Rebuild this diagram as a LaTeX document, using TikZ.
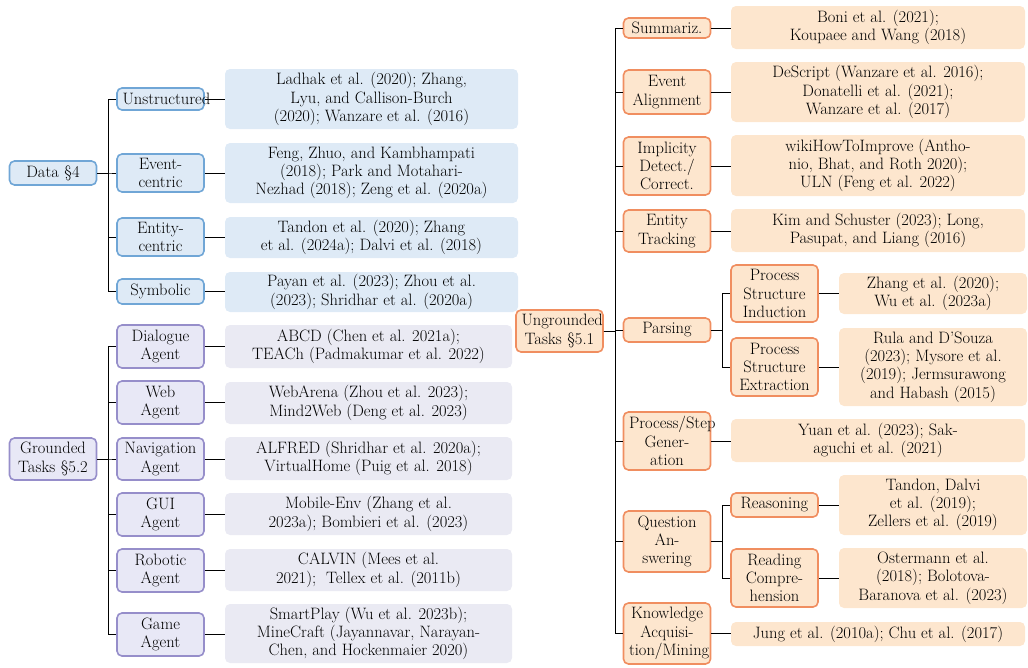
\documentclass[tikz,border=0pt]{standalone}
\definecolor{dataline}{RGB}{112,166,214}
\definecolor{datafill}{RGB}{222,234,246}
\definecolor{gndline}{RGB}{150,142,202}
\definecolor{gndfill}{RGB}{232,232,246}
\definecolor{gndleaf}{RGB}{234,234,243}
\definecolor{ugline}{RGB}{240,142,96}
\definecolor{ugfill}{RGB}{253,230,206}
\tikzset{
  box/.style={draw, rounded corners=5pt, line width=1.6pt, align=center,
    text width=76pt, inner xsep=5.5pt, inner ysep=0pt,
    font=\fontsize{16.5}{18.3}\selectfont},
  leaf/.style={rounded corners=5pt, align=center, inner sep=0pt,
    font=\fontsize{16.5}{18.3}\selectfont},
  dbox/.style={box, draw=dataline, fill=datafill},
  gbox/.style={box, draw=gndline, fill=gndfill},
  ubox/.style={box, draw=ugline, fill=ugfill},
  dleaf/.style={leaf, fill=datafill, minimum width=293pt},
  gleaf/.style={leaf, fill=gndleaf, minimum width=287pt},
  uleaf/.style={leaf, fill=ugfill, minimum width=294pt},
  usub/.style={leaf, fill=ugfill, minimum width=188pt},
  conn/.style={line width=0.9pt},
}
\begin{document}
\begin{tikzpicture}[x=1pt,y=-1pt]
  \useasboundingbox (0,0) rectangle (1028,667);

  % data
  \node[dbox, minimum height=24pt] (data) at (53,173) {Data \S4};
  \node[dbox, minimum height=22pt] (unstr) at (160.5,99) {Unstructured};
  \node[dbox, minimum height=38pt] (event) at (160.5,173) {Event-\\centric};
  \node[dbox, minimum height=38pt] (entity) at (160.5,237) {Entity-\\centric};
  \node[dbox, minimum height=25pt] (symb) at (160.5,291.5) {Symbolic};
  \node[dleaf, minimum height=60pt] (unstrL) at (371.5,99) {Ladhak et al. (2020); Zhang,\\Lyu, and Callison-Burch\\(2020); Wanzare et al. (2016)};
  \node[dleaf, minimum height=60pt] (eventL) at (371.5,173) {Feng, Zhuo, and Kambhampati\\(2018); Park and Motahari-\\Nezhad (2018); Zeng et al. (2020a)};
  \node[dleaf, minimum height=41pt] (entityL) at (371.5,237.5) {Tandon et al. (2020); Zhang\\et al. (2024a); Dalvi et al. (2018)};
  \node[dleaf, minimum height=40pt] (symbL) at (371.5,292) {Payan et al. (2023); Zhou et al.\\(2023); Shridhar et al. (2020a)};

  % grounded
  \node[gbox, minimum height=42pt] (ground) at (53,459) {Grounded\\Tasks \S5.2};
  \node[gbox, minimum height=43pt] (dial) at (160.5,346.5) {Dialogue\\Agent};
  \node[gbox, minimum height=43pt] (web) at (160.5,402.5) {Web\\Agent};
  \node[gbox, minimum height=42pt] (nav) at (160.5,459) {Navigation\\Agent};
  \node[gbox, minimum height=43pt] (gui) at (160.5,514.5) {GUI\\Agent};
  \node[gbox, minimum height=43pt] (robot) at (160.5,570.5) {Robotic\\Agent};
  \node[gbox, minimum height=43pt] (game) at (160.5,634.5) {Game\\Agent};
  \node[gleaf, minimum height=43pt] (dialL) at (368.5,346.5) {ABCD (Chen et al. 2021a);\\TEACh (Padmakumar et al. 2022)};
  \node[gleaf, minimum height=42pt] (webL) at (368.5,403) {WebArena (Zhou et al. 2023);\\Mind2Web (Deng et al. 2023)};
  \node[gleaf, minimum height=43pt] (navL) at (368.5,458.5) {ALFRED (Shridhar et al. 2020a);\\VirtualHome (Puig et al. 2018)};
  \node[gleaf, minimum height=42pt] (guiL) at (368.5,514) {Mobile-Env (Zhang et al.\\2023a); Bombieri et al. (2023)};
  \node[gleaf, minimum height=42pt] (robotL) at (368.5,570) {CALVIN (Mees et al.\\2021);~~Tellex et al. (2011b)};
  \node[gleaf, minimum height=59pt] (gameL) at (368.5,633.5) {SmartPlay (Wu et al. 2023b);\\MineCraft (Jayannavar, Narayan-\\Chen, and Hockenmaier 2020)};

  % ungrounded
  \node[ubox, minimum height=42pt] (unground) at (559.5,331) {Ungrounded\\Tasks \S5.1};
  \node[ubox, minimum height=20pt] (summ) at (667,28) {Summariz.};
  \node[ubox, minimum height=44pt] (align) at (667,92) {Event\\Alignment};
  \node[ubox, minimum height=58pt] (impl) at (667,166) {Implicity\\Detect./\\Correct.};
  \node[ubox, minimum height=42pt] (track) at (667,231) {Entity\\Tracking};
  \node[ubox, minimum height=24pt] (pars) at (667,330) {Parsing};
  \node[ubox, minimum height=58pt] (gen) at (667,441) {Process/Step\\Gener-\\ation};
  \node[ubox, minimum height=61pt] (qa) at (667,541.5) {Question\\An-\\swering};
  \node[ubox, minimum height=61pt] (know) at (667,633.5) {Knowledge\\Acquisi-\\tion/Mining};
  \node[ubox, minimum height=57pt] (psi) at (774.5,293.5) {Process\\Structure\\Induction};
  \node[ubox, minimum height=58pt] (pse) at (774.5,367) {Process\\Structure\\Extraction};
  \node[ubox, minimum height=24pt] (reas) at (774.5,505) {Reasoning};
  \node[ubox, minimum height=58pt] (read) at (774.5,578) {Reading\\Compre-\\hension};
  \node[uleaf, minimum height=43pt] (summL) at (878,27.5) {Boni et al. (2021);\\Koupaee and Wang (2018)};
  \node[uleaf, minimum height=60pt] (alignL) at (878,92) {DeScript (Wanzare et al. 2016);\\Donatelli et al. (2021);\\Wanzare et al. (2017)};
  \node[uleaf, minimum height=61pt] (implL) at (878,165.5) {wikiHowToImprove (Antho-\\nio, Bhat, and Roth 2020);\\ULN (Feng et al. 2022)};
  \node[uleaf, minimum height=43pt] (trackL) at (878,230.5) {Kim and Schuster (2023); Long,\\Pasupat, and Liang (2016)};
  \node[uleaf, minimum height=43pt] (genL) at (878,440.5) {Yuan et al. (2023); Sak-\\aguchi et al. (2021)};
  \node[uleaf, minimum height=24pt] (knowL) at (878,634) {Jung et al. (2010a); Chu et al. (2017)};
  \node[usub, minimum height=41pt] (psiL) at (933,293.5) {Zhang et al. (2020);\\Wu et al. (2023a)};
  \node[usub, minimum height=78pt] (pseL) at (933,367) {Rula and D'Souza\\(2023); Mysore et al.\\(2019); Jermsurawong\\and Habash (2015)};
  \node[usub, minimum height=60pt] (reasL) at (933,505) {Tandon, Dalvi\\et al. (2019);\\Zellers et al. (2019)};
  \node[usub, minimum height=60pt] (readL) at (933,578) {Ostermann et al.\\(2018); Bolotova-\\Baranova et al. (2023)};

  % tree lines
  \foreach \m in {unstr,event,entity,symb}
    \draw[conn] (data.east) -- ++(11,0) |- (\m.west);
  \foreach \m in {dial,web,nav,gui,robot,game}
    \draw[conn] (ground.east) -- ++(11,0) |- (\m.west);
  \foreach \m in {summ,align,impl,track,pars,gen,qa,know}
    \draw[conn] (unground.east) -- ++(12,0) |- (\m.west);
  \foreach \m in {psi,pse}
    \draw[conn] (pars.east) -- ++(11,0) |- (\m.west);
  \foreach \m in {reas,read}
    \draw[conn] (qa.east) -- ++(11,0) |- (\m.west);
  \foreach \m in {unstr,event,entity,symb,dial,web,nav,gui,robot,game,
      summ,align,impl,track,gen,know,psi,pse,reas,read}
    \draw[conn] (\m.east) -- (\m L.west |- \m.east);
\end{tikzpicture}
\end{document}
